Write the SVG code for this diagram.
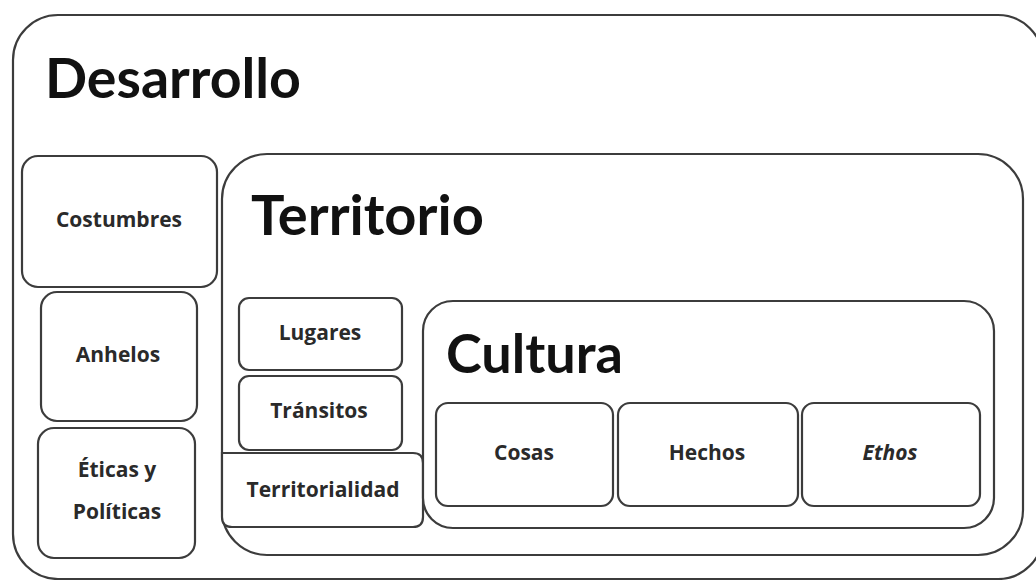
<svg xmlns="http://www.w3.org/2000/svg" width="1036" height="580" viewBox="0 0 1036 580">
<style>
.box{fill:#ffffff;stroke:#3c3c3c;stroke-width:2.2}
.big{font-family:Lato,"Open Sans","Liberation Sans",sans-serif;font-weight:bold;fill:#111111}
.lbl{font-family:"Open Sans","Noto Sans","Liberation Sans",sans-serif;font-weight:bold;font-size:21px;fill:#2a2a2a;text-anchor:middle}
</style>
<rect width="1036" height="580" fill="#ffffff"/>
<g id="desarrollo">
<rect class="box" x="13" y="15" width="1030" height="564" rx="45"/>
<text class="big" x="45" y="98" font-size="55.5">Desarrollo</text>
</g>
<g id="costumbres">
<rect class="box" x="22" y="156" width="195" height="131" rx="16"/>
<text class="lbl" x="119" y="227">Costumbres</text>
</g>
<g id="anhelos">
<rect class="box" x="41" y="292" width="156" height="129" rx="16"/>
<text class="lbl" x="118" y="362">Anhelos</text>
</g>
<g id="eticas">
<rect class="box" x="38" y="428" width="157" height="130" rx="16"/>
<text class="lbl" x="117" y="477">Éticas y</text>
<text class="lbl" x="117" y="519">Políticas</text>
</g>
<g id="territorio">
<rect class="box" x="222" y="154" width="801" height="401" rx="45"/>
<text class="big" x="251" y="235" font-size="56">Territorio</text>
</g>
<g id="lugares">
<rect class="box" x="239" y="298" width="163" height="72" rx="10"/>
<text class="lbl" x="320" y="340">Lugares</text>
</g>
<g id="transitos">
<rect class="box" x="239" y="376" width="163" height="74" rx="10"/>
<text class="lbl" x="319" y="418">Tránsitos</text>
</g>
<g id="territorialidad">
<path class="box" d="M222 453 H413 Q423 453 423 463 V517 Q423 527 413 527 H232 Q222 527 222 517 Z"/>
<text class="lbl" x="323" y="497">Territorialidad</text>
</g>
<g id="cultura">
<rect class="box" x="423" y="301" width="571" height="227" rx="30"/>
<text class="big" x="446" y="373" font-size="54">Cultura</text>
</g>
<g id="cosas">
<rect class="box" x="436" y="403" width="177" height="103" rx="12"/>
<text class="lbl" x="524" y="460">Cosas</text>
</g>
<g id="hechos">
<rect class="box" x="618" y="403" width="180" height="103" rx="12"/>
<text class="lbl" x="707" y="460">Hechos</text>
</g>
<g id="ethos">
<rect class="box" x="802" y="403" width="178" height="103" rx="12"/>
<text class="lbl" x="890" y="460" font-style="italic">Ethos</text>
</g>
<g id="connectors"/>
</svg>
